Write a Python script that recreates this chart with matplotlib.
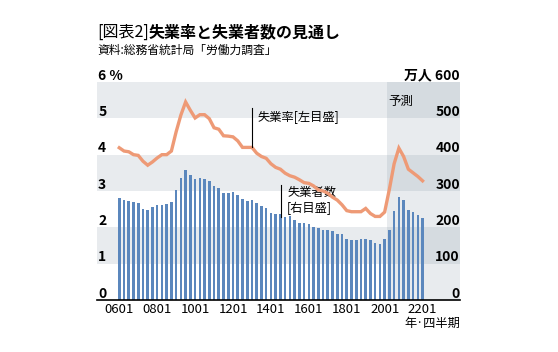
import numpy as np
import matplotlib.pyplot as plt

plt.rcParams['font.family'] = ['Noto Sans CJK JP', 'DejaVu Sans']

# quarterly data, 2006Q1 .. 2022Q1
unemployed = [281, 274, 272, 269, 267, 250, 249, 257, 261, 262, 265, 271, 302, 336, 359,
              343, 333, 336, 334, 328, 313, 308, 294, 294, 297, 288, 279, 273, 275, 267,
              260, 253, 239, 238, 238, 229, 230, 221, 213, 213, 210, 201, 198, 194, 194,
              189, 182, 182, 168, 164, 166, 168, 169, 164, 157, 155, 168, 194, 246, 283,
              276, 249, 242, 235, 226]  # 万人
rate = [4.19, 4.10, 4.08, 4.00, 3.98, 3.82, 3.71, 3.80, 3.91, 4.00, 4.00, 4.10, 4.63, 5.09, 5.45,
        5.22, 5.01, 5.10, 5.10, 4.99, 4.74, 4.70, 4.52, 4.51, 4.49, 4.38, 4.20, 4.20, 4.20, 4.04,
        3.95, 3.90, 3.75, 3.65, 3.60, 3.49, 3.42, 3.38, 3.31, 3.23, 3.21, 3.14, 3.03, 3.00, 2.94,
        2.83, 2.75, 2.62, 2.46, 2.43, 2.43, 2.43, 2.52, 2.38, 2.30, 2.30, 2.42, 3.05, 3.75, 4.18,
        3.95, 3.60, 3.50, 3.40, 3.28]  # %
quarters = np.arange(len(unemployed))
forecast_from = 57  # 2020Q2 onward is forecast

xtick_labels = ['0601', '0801', '1001', '1201', '1401', '1601', '1801', '2001', '2201']
xtick_pos = [0, 8, 16, 24, 32, 40, 48, 56, 64]
rate_ticks = [0, 1, 2, 3, 4, 5, 6]
count_ticks = [0, 100, 200, 300, 400, 500, 600]

BAR = '#5b87bd'
LINE = '#ee9a76'
BAND = '#e8ebee'
FC_DARK = '#d5dbe0'
FC_LIGHT = '#e8ebee'

fig = plt.figure(figsize=(5.58, 3.52), dpi=100)
ax = fig.add_axes([97 / 558, 1 - 300 / 352, 363 / 558, 218 / 352])
ax.set_xlim(-4.7, 71.9)
ax.set_ylim(0, 600)

# alternating bands, darker inside the forecast span
fc_left = forecast_from - 0.5
for i in range(len(count_ticks) - 1):
    lo, hi = count_ticks[i], count_ticks[i + 1]
    if i % 2 == 1:
        ax.axhspan(lo, hi, color=BAND, lw=0, zorder=0)
    ax.fill_between([fc_left, 71.9], lo, hi, color=FC_DARK if i % 2 == 1 else FC_LIGHT,
                    lw=0, zorder=0.5)

ax.bar(quarters, unemployed, width=0.55, color=BAR, zorder=2)

for s in ['top', 'left', 'right']:
    ax.spines[s].set_visible(False)
ax.spines['bottom'].set_linewidth(1.2)
ax.spines['bottom'].set_zorder(5)
ax.set_yticks([])
ax.set_xticks(xtick_pos)
ax.set_xticklabels(xtick_labels, fontsize=9.5)
ax.tick_params(axis='x', length=0, pad=2)

ax2 = ax.twinx()
ax2.set_ylim(0, 6)
ax2.axis('off')
ax2.plot(quarters, rate, color=LINE, lw=2.4, solid_joinstyle='miter', zorder=3)

# axis labels inside the plot, sitting on their band lines
for v in rate_ticks:
    lab = '6 %' if v == 6 else str(v)
    ax2.text(0.003, v + 0.06, lab, transform=ax2.get_yaxis_transform(), ha='left',
             va='baseline', fontsize=10, fontweight='bold')
for v in count_ticks:
    lab = '万人 600' if v == 600 else str(v)
    ax.text(1.0, v + 6, lab, transform=ax.get_yaxis_transform(), ha='right',
            va='baseline', fontsize=10, fontweight='bold')

ax.text(fc_left + 0.2, 565, '予測', ha='left', va='top', fontsize=9)

# annotations
ax2.plot([28, 28], [rate[28], 5.29], color='black', lw=0.8, zorder=4)
ax2.text(29.2, 5.03, '失業率[左目盛]', ha='left', va='center', fontsize=8.8)
ax.plot([34.2, 34.2], [229, 317], color='black', lw=0.8, zorder=4)
ax.text(35.4, 274, '失業者数\n[右目盛]', ha='left', va='center', fontsize=8.8,
        linespacing=1.3)

fig.text(460 / 558, 1 - 323 / 352, '年·四半期', ha='right', va='center', fontsize=8.8)

t1 = fig.text(97 / 558, 1 - 32 / 352, '[図表2]', ha='left', va='center', fontsize=11.5)
fig.canvas.draw()
bb = t1.get_window_extent().transformed(fig.transFigure.inverted())
fig.text(bb.x1, 1 - 32 / 352, '失業率と失業者数の見通し', ha='left', va='center',
         fontsize=11.5, fontweight='bold')
fig.text(97 / 558, 1 - 50 / 352, '資料:総務省統計局「労働力調査」', ha='left',
         va='center', fontsize=8.5)

fig.savefig('out.png', dpi=100)
